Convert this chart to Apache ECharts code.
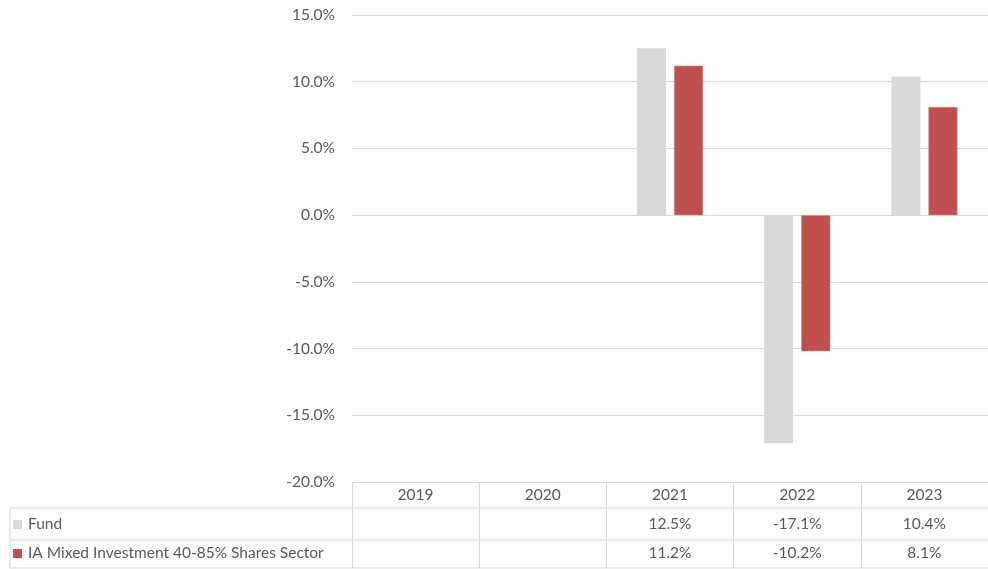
<!DOCTYPE html>
<html>
<head>
<meta charset="utf-8">
<script src="https://cdn.jsdelivr.net/npm/echarts@6/dist/echarts.min.js"></script>
<style>
  html, body { margin: 0; padding: 0; background: #fff; }
  #chart { width: 988px; height: 569px; }
</style>
</head>
<body>
<div id="chart"></div>
<script>
// data
const years = ["2019", "2020", "2021", "2022", "2023"];
const seriesNames = ["Fund", "IA Mixed Investment 40-85% Shares Sector"];
const fundValues = [null, null, 12.5, -17.1, 10.4];
const sectorValues = [null, null, 11.2, -10.2, 8.1];
const colors = ["#d9d9d9", "#c0504d"];

const textColor = "#595959";
const lineColor = "#d9d9d9";
const font = "Lato, 'Open Sans', sans-serif";
const fontSize = 15.5;

const chart = echarts.init(document.getElementById("chart"));

const fmt = (v) => (v === null ? "" : v.toFixed(1) + "%");

const option = {
  animation: false,
  grid: { left: 352, top: 15, width: 640, height: 467 },
  xAxis: {
    type: "category",
    data: years,
    position: "bottom",
    axisLine: { onZero: false, lineStyle: { color: lineColor } },
    axisTick: { show: true, length: 86, lineStyle: { color: lineColor } },
    axisLabel: { color: textColor, fontSize: fontSize, fontFamily: font, margin: 5 },
  },
  yAxis: {
    type: "value",
    min: -20,
    max: 15,
    interval: 5,
    axisLine: { show: false },
    axisTick: { show: false },
    axisLabel: {
      color: textColor,
      fontSize: fontSize,
      fontFamily: font,
      margin: 17,
      formatter: (v) => v.toFixed(1) + "%",
    },
    splitLine: { lineStyle: { color: lineColor } },
  },
  series: [
    {
      name: seriesNames[0],
      type: "bar",
      data: fundValues,
      barWidth: 29,
      barGap: "28%",
      itemStyle: { color: colors[0] },
    },
    {
      name: seriesNames[1],
      type: "bar",
      data: sectorValues,
      barWidth: 29,
      itemStyle: { color: colors[1], borderColor: "#d88a88", borderWidth: 0.5 },
    },
  ],
};

chart.setOption(option);

// data table below the axis
const rowY = [524, 553];
const hLines = [508, 540, 568];
const graphics = [];

hLines.forEach((y) => {
  graphics.push({
    type: "line",
    shape: { x1: 10, y1: y, x2: 988, y2: y },
    style: { stroke: lineColor, lineWidth: 1 },
  });
});
graphics.push({
  type: "line",
  shape: { x1: 10, y1: 508, x2: 10, y2: 568 },
  style: { stroke: lineColor, lineWidth: 1 },
});

const rows = [fundValues, sectorValues];
rows.forEach((vals, r) => {
  graphics.push({
    type: "rect",
    shape: { x: 13, y: rowY[r] - 4, width: 9, height: 9 },
    style: { fill: colors[r] },
  });
  graphics.push({
    type: "text",
    x: 28,
    y: rowY[r],
    style: {
      text: seriesNames[r],
      fill: textColor,
      fontSize: fontSize,
      fontFamily: font,
      verticalAlign: "middle",
    },
  });
  vals.forEach((v, i) => {
    const x = chart.convertToPixel({ xAxisIndex: 0 }, years[i]);
    graphics.push({
      type: "text",
      x: x,
      y: rowY[r],
      style: {
        text: fmt(v),
        fill: textColor,
        fontSize: fontSize,
        fontFamily: font,
        align: "center",
        verticalAlign: "middle",
      },
    });
  });
});

chart.setOption({ graphic: graphics });
</script>
</body>
</html>
